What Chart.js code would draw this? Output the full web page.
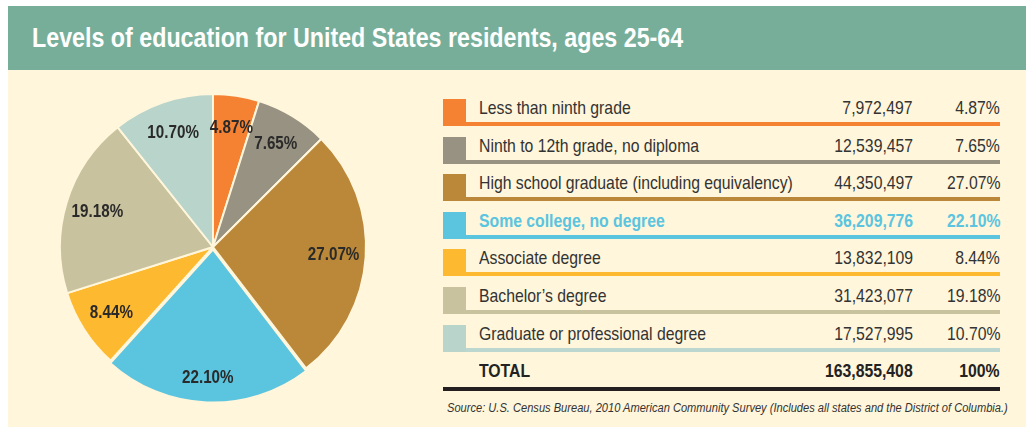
<!DOCTYPE html>
<html>
<head>
<meta charset="utf-8">
<script src="https://cdn.jsdelivr.net/npm/chart.js@4.4.0/dist/chart.umd.min.js"></script>
<style>
  html, body { margin: 0; padding: 0; background: #ffffff; }
  body { width: 1026px; height: 427px; position: relative; overflow: hidden;
         font-family: "Liberation Sans", Arial, sans-serif; }
  #bar { position: absolute; left: 8px; top: 6px; width: 1018px; height: 64px; background: #77AE99; }
  #title { position: absolute; left: 24px; top: 0; height: 64px; line-height: 64px;
           color: #ffffff; font-weight: 700; font-size: 28px; white-space: nowrap;
           transform-origin: 0 50%; }
  #panel { position: absolute; left: 8px; top: 70px; width: 1018px; height: 357px; background: #FFF6DB; }
  #pieBox { position: absolute; left: 54px; top: 88px; width: 318px; height: 318px; }
  #table { position: absolute; left: 443px; top: 99px; width: 557px; }
  .row { position: absolute; left: 0; width: 557px; height: 27px; }
  .sq { position: absolute; left: 0; top: 0; width: 23px; height: 27px; }
  .ln { position: absolute; left: 23px; right: 0; bottom: 0; height: 4px; }
  .cell { position: absolute; top: -1px; height: 23px; line-height: 19px; font-size: 19px; color: #333333; white-space: nowrap; }
  .lab { left: 36px; transform: scaleX(0.83); transform-origin: 0 50%; }
  .num { right: 87px; text-align: right; transform: scaleX(0.83); transform-origin: 100% 50%; }
  .pct { right: 0; text-align: right; transform: scaleX(0.83); transform-origin: 100% 50%; }
  #totalLine { position: absolute; left: 443px; top: 387px; width: 557px; height: 4px; background: #231F20; }
  #source { position: absolute; left: 447px; top: 401px; font-size: 12.5px; font-style: italic; color: #333333;
            white-space: nowrap; transform-origin: 0 50%; }
</style>
</head>
<body>
<div id="bar"><div id="title">Levels of education for United States residents, ages 25-64</div></div>
<div id="panel"></div>
<div id="pieBox"><canvas id="pie"></canvas></div>
<div id="table"></div>
<div id="totalLine"></div>
<div id="source">Source: U.S. Census Bureau, 2010 American Community Survey (Includes all states and the District of Columbia.)</div>
<script>
const categories = [
  "Less than ninth grade",
  "Ninth to 12th grade, no diploma",
  "High school graduate (including equivalency)",
  "Some college, no degree",
  "Associate degree",
  "Bachelor\u2019s degree",
  "Graduate or professional degree"
];
const counts = ["7,972,497", "12,539,457", "44,350,497", "36,209,776", "13,832,109", "31,423,077", "17,527,995"];
const percents = [4.87, 7.65, 27.07, 22.10, 8.44, 19.18, 10.70];
const totalCount = "163,855,408";
const totalPercent = "100%";
const highlightIndex = 3;

const colors = ["#F58233", "#979282", "#BA8838", "#5BC4DF", "#FDB92F", "#C9C29E", "#B8D4CB"];
const lineColors = ["#F58233", "#979282", "#BA8838", "#5BC4DF", "#FDB92F", "#C9C29E", "#BCD7CF"];

// fit condensed-looking text to reference widths
function fitWidth(el, target) {
  const w = el.scrollWidth;
  if (w > 0) el.style.transform = 'scaleX(' + (target / w) + ')';
}
fitWidth(document.getElementById('title'), 651);
fitWidth(document.getElementById('source'), 561);

// Table
const table = document.getElementById('table');
const pitch = 37.6;
function fmtPct(v) { return v.toFixed(2) + '%'; }
categories.forEach((c, i) => {
  const row = document.createElement('div');
  row.className = 'row';
  row.style.top = (i * pitch) + 'px';
  const hl = i === highlightIndex;
  const style = hl ? 'color:' + colors[i] + ';font-weight:700;' : '';
  row.innerHTML =
    '<div class="sq" style="background:' + colors[i] + '"></div>' +
    '<div class="ln" style="background:' + lineColors[i] + '"></div>' +
    '<div class="cell lab" style="' + style + '">' + c + '</div>' +
    '<div class="cell num" style="' + style + '">' + counts[i] + '</div>' +
    '<div class="cell pct" style="' + style + '">' + fmtPct(percents[i]) + '</div>';
  table.appendChild(row);
});
const trow = document.createElement('div');
trow.className = 'row';
trow.style.top = (categories.length * pitch) + 'px';
trow.innerHTML =
  '<div class="cell lab" style="font-weight:700;color:#222">TOTAL</div>' +
  '<div class="cell num" style="font-weight:700;color:#222">' + totalCount + '</div>' +
  '<div class="cell pct" style="font-weight:700;color:#222">' + totalPercent + '</div>';
table.appendChild(trow);

// Pie labels plugin
const pieLabels = {
  id: 'pieLabels',
  afterDatasetsDraw(chart) {
    const ctx = chart.ctx;
    const meta = chart.getDatasetMeta(0);
    ctx.save();
    ctx.font = 'bold 19px "Liberation Sans", Arial, sans-serif';
    ctx.fillStyle = '#2a2a2a';
    ctx.textAlign = 'center';
    ctx.textBaseline = 'middle';
    meta.data.forEach((arc, i) => {
      const p = arc.getProps(['x', 'y', 'startAngle', 'endAngle', 'outerRadius'], true);
      const mid = (p.startAngle + p.endAngle) / 2;
      const off = arc.options.offset || 0;
      const r = p.outerRadius * 0.79 + off;
      ctx.save();
      ctx.translate(p.x + Math.cos(mid) * r, p.y + Math.sin(mid) * r);
      ctx.scale(0.8, 1);
      ctx.fillText(fmtPct(percents[i]), 0, 0);
      ctx.restore();
    });
    ctx.restore();
  }
};

new Chart(document.getElementById('pie'), {
  type: 'pie',
  data: {
    labels: categories,
    datasets: [{
      data: percents,
      backgroundColor: colors,
      borderColor: '#FFF6DB',
      borderWidth: 2,
      offset: [0, 0, 0, 10, 0, 0, 0]
    }]
  },
  options: {
    responsive: true,
    maintainAspectRatio: false,
    animation: false,
    layout: { padding: 0 },
    plugins: { legend: { display: false }, tooltip: { enabled: false } }
  },
  plugins: [pieLabels]
});
</script>
</body>
</html>
